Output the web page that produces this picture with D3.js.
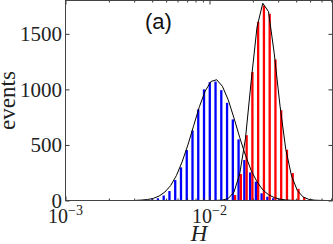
<!DOCTYPE html>
<html>
<head>
<meta charset="utf-8">
<script src="https://cdn.jsdelivr.net/npm/d3@7"></script>
<style>
  body { margin: 0; background: #fff; }
  svg { display: block; }
</style>
</head>
<body>
<div id="chart"></div>
<script>
// log10 of the left edge of each histogram bin
var binEdges = [-2.53, -2.49, -2.45, -2.41, -2.37, -2.33, -2.29, -2.25, -2.21, -2.17,
                -2.13, -2.09, -2.05, -2.01, -1.97, -1.93, -1.89, -1.85, -1.81, -1.77,
                -1.73, -1.69, -1.65, -1.61, -1.57, -1.53, -1.49, -1.45, -1.41, -1.37,
                -1.33, -1.29, -1.25, -1.21, -1.17];

// histogram counts (blue / red)
var blueCounts = [0, 0, 5, 11, 20, 45, 85, 184, 298, 454,
                  630, 820, 1000, 1065, 1070, 993, 879, 730, 550, 364,
                  253, 169, 65, 34, 20, 11, 4, 0, 0, 0,
                  0, 0, 0, 0, 0];
var redCounts = [0, 0, 0, 0, 0, 0, 0, 0, 0, 0,
                 0, 0, 0, 0, 0, 0, 5, 49, 238, 588,
                 1157, 1608, 1755, 1680, 1269, 813, 457, 247, 105, 31,
                 8, 2, 0, 0, 0];

// fitted curves, read at bin centres
var blueFit = [1.5, 4, 9, 19, 40, 76, 134, 224, 348, 500,
               673, 845, 984, 1071, 1087, 1027, 906, 743, 567, 406,
               269, 168, 96, 52, 26, 12, 5, 2, 1, 0,
               0, 0, 0, 0, 0];
var redFit = [0, 0, 0, 0, 0, 0, 0, 0, 0, 0,
              0, 0, 0, 0, 1, 4, 18, 75, 240, 560,
              1080, 1560, 1775, 1700, 1320, 850, 460, 220, 90, 32,
              10, 3, 1, 0, 0];

var yTicks = [0, 500, 1000, 1500];
var xLabelExps = [-3, -2];

var svgWidth = 333;
var svgHeight = 244;

var margin = { top: 0.5, right: 0.5, bottom: 43.5, left: 65.5 };
var width = svgWidth - margin.left - margin.right;
var height = svgHeight - margin.top - margin.bottom;

var svg = d3.select("#chart")
  .append("svg")
  .attr("width", svgWidth)
  .attr("height", svgHeight);

var chartGroup = svg.append("g")
  .attr("transform", `translate(${margin.left}, ${margin.top})`);

svg.append("defs").append("clipPath")
  .attr("id", "plotClip")
  .append("rect")
  .attr("width", width)
  .attr("height", height);

// scales
var xScale = d3.scaleLog().domain([1e-3, 0.0715]).range([0, width]);
var yScale = d3.scaleLinear().domain([0, 1800]).range([height, 0]);

var binW = binEdges[1] - binEdges[0];
var pow = function(v) { return Math.pow(10, v); };

var plot = chartGroup.append("g").attr("clip-path", "url(#plotClip)");

// bars: blue on the left half of each bin, red on the right half
plot.append("g").selectAll("rect")
  .data(binEdges)
  .enter()
  .append("rect")
  .attr("x", d => xScale(pow(d + 0.1 * binW)))
  .attr("width", d => xScale(pow(d + 0.5 * binW)) - xScale(pow(d + 0.1 * binW)))
  .attr("y", (d, i) => yScale(blueCounts[i]))
  .attr("height", (d, i) => height - yScale(blueCounts[i]))
  .attr("fill", "#0000ff");

plot.append("g").selectAll("rect")
  .data(binEdges)
  .enter()
  .append("rect")
  .attr("x", d => xScale(pow(d + 0.5 * binW)))
  .attr("width", d => xScale(pow(d + 0.9 * binW)) - xScale(pow(d + 0.5 * binW)))
  .attr("y", (d, i) => yScale(redCounts[i]))
  .attr("height", (d, i) => height - yScale(redCounts[i]))
  .attr("fill", "#ff0000");

// fit curves
var line = d3.line()
  .x(d => xScale(pow(d[0] + binW / 2)))
  .y(d => yScale(d[1]));

[blueFit, redFit].forEach(function(fit) {
  plot.append("path")
    .datum(binEdges.map((e, i) => [e, fit[i]]))
    .attr("d", line)
    .attr("fill", "none")
    .attr("stroke", "#000")
    .attr("stroke-width", 1);
});

// ticks (inward, on all four sides)
var majorX = xScale.ticks().filter(t => Math.abs(Math.log10(t) - Math.round(Math.log10(t))) < 1e-9);
var minorX = xScale.ticks().filter(t => majorX.indexOf(t) < 0);

function tickStyle(g) {
  g.select(".domain").remove();
  g.selectAll("line").attr("stroke", "#333").attr("stroke-width", 1);
  g.selectAll("text").remove();
}

chartGroup.append("g")
  .attr("transform", `translate(0, ${height})`)
  .call(d3.axisBottom(xScale).tickValues(majorX).tickSize(-4)).call(tickStyle);
chartGroup.append("g")
  .attr("transform", `translate(0, ${height})`)
  .call(d3.axisBottom(xScale).tickValues(minorX).tickSize(-2)).call(tickStyle);
chartGroup.append("g")
  .call(d3.axisTop(xScale).tickValues(majorX).tickSize(-4)).call(tickStyle);
chartGroup.append("g")
  .call(d3.axisTop(xScale).tickValues(minorX).tickSize(-2)).call(tickStyle);
chartGroup.append("g")
  .call(d3.axisLeft(yScale).tickValues(yTicks).tickSize(-4)).call(tickStyle);
chartGroup.append("g")
  .attr("transform", `translate(${width}, 0)`)
  .call(d3.axisRight(yScale).tickValues(yTicks).tickSize(-4)).call(tickStyle);

// frame
chartGroup.append("rect")
  .attr("width", width)
  .attr("height", height)
  .attr("fill", "none")
  .attr("stroke", "#444")
  .attr("stroke-width", 1);

// y tick labels
chartGroup.append("g").selectAll("text")
  .data(yTicks)
  .enter()
  .append("text")
  .attr("x", -3.5)
  .attr("y", d => yScale(d))
  .attr("dy", "0.34em")
  .attr("text-anchor", "end")
  .style("font-family", "'Liberation Serif', 'DejaVu Serif', serif")
  .style("font-size", "21px")
  .attr("fill", "#222")
  .text(d => d);

// x tick labels 10^n
var xLabels = chartGroup.append("g").selectAll("text")
  .data(xLabelExps)
  .enter()
  .append("text")
  .attr("x", d => xScale(pow(d)))
  .attr("y", height + 22.5)
  .attr("text-anchor", "middle")
  .style("font-family", "'Liberation Serif', 'DejaVu Serif', serif")
  .style("font-size", "20px")
  .attr("fill", "#222");
xLabels.append("tspan").text("10");
xLabels.append("tspan")
  .attr("dy", -8)
  .style("font-size", "14px")
  .text(d => "\u2212" + Math.abs(d));

// axis labels
chartGroup.append("text")
  .attr("transform", "rotate(-90)")
  .attr("x", -height / 2)
  .attr("y", 15 - margin.left)
  .attr("text-anchor", "middle")
  .style("font-family", "'Liberation Serif', 'DejaVu Serif', serif")
  .style("font-size", "23px")
  .attr("fill", "#222")
  .text("events");

chartGroup.append("text")
  .attr("x", width / 2)
  .attr("y", height + 40.5)
  .attr("text-anchor", "middle")
  .style("font-family", "'Liberation Serif', 'DejaVu Serif', serif")
  .style("font-style", "italic")
  .style("font-size", "23px")
  .attr("fill", "#222")
  .text("H");

// panel tag
chartGroup.append("text")
  .attr("x", 145 - margin.left)
  .attr("y", 28)
  .style("font-family", "'Liberation Sans', Arial, sans-serif")
  .style("font-size", "22px")
  .attr("fill", "#111")
  .text("(a)");
</script>
</body>
</html>
